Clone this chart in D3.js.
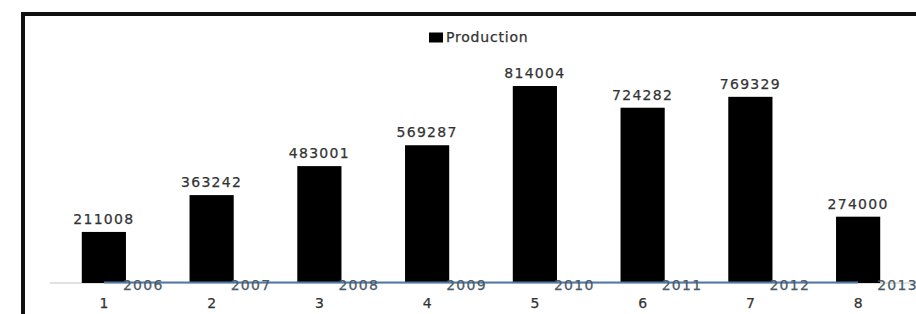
<!DOCTYPE html>
<html>
<head>
<meta charset="utf-8">
<script src="https://cdn.jsdelivr.net/npm/d3@7"></script>
<style>
  body { margin: 0; background: #fff; }
  text { font-family: 'DejaVu Sans', sans-serif; }
</style>
</head>
<body>
<svg id="canvas"></svg>
<script>
let categories = ['1', '2', '3', '4', '5', '6', '7', '8']
let production = [211008, 363242, 483001, 569287, 814004, 724282, 769329, 274000]
let years = [2006, 2007, 2008, 2009, 2010, 2011, 2012, 2013]

let width = 916
let height = 314

let canvas = d3.select('#canvas')
canvas.attr('width', width).attr('height', height)

// outer chart frame (runs off the right / bottom edge)
canvas.append('rect')
    .attr('x', 23).attr('y', 14)
    .attr('width', 960).attr('height', 360)
    .attr('fill', 'none')
    .attr('stroke', '#111')
    .attr('stroke-width', 4)

let xScale = d3.scaleBand()
    .domain(categories)
    .range([50, 912])
    .paddingInner(0.59)
    .paddingOuter(0.295)

let yScale = d3.scaleLinear()
    .domain([0, 900000])
    .range([283, 65.2])

// category axis line
canvas.append('line')
    .attr('x1', 50).attr('x2', width)
    .attr('y1', yScale(0)).attr('y2', yScale(0))
    .attr('stroke', '#c4c4c4')
    .attr('stroke-width', 1)

canvas.selectAll('rect.bar')
    .data(production)
    .enter()
    .append('rect')
    .attr('class', 'bar')
    .attr('x', (d, i) => xScale(categories[i]))
    .attr('y', (d) => yScale(d))
    .attr('width', xScale.bandwidth())
    .attr('height', (d) => yScale(0) - yScale(d))
    .attr('fill', '#000')

canvas.selectAll('text.val')
    .data(production)
    .enter()
    .append('text')
    .attr('class', 'val')
    .attr('x', (d, i) => xScale(categories[i]) + xScale.bandwidth() / 2)
    .attr('y', (d) => yScale(d) - 8)
    .attr('text-anchor', 'middle')
    .attr('font-size', 14)
    .attr('letter-spacing', 1.3)
    .attr('fill', '#333')
    .attr('stroke', '#333')
    .attr('stroke-width', 0.25)
    .text((d) => d)

// year series, plotted on the same scale (sits on the baseline)
let line = d3.line()
    .x((d, i) => xScale(categories[i]) + xScale.bandwidth() / 2)
    .y((d) => yScale(d))

canvas.append('path')
    .datum(years)
    .attr('d', line)
    .attr('fill', 'none')
    .attr('stroke', '#4d7aa6')
    .attr('stroke-width', 2)

canvas.selectAll('text.year')
    .data(years)
    .enter()
    .append('text')
    .attr('class', 'year')
    .attr('x', (d, i) => xScale(categories[i]) + xScale.bandwidth() / 2 + 19)
    .attr('y', (d) => yScale(d) + 7)
    .attr('font-size', 14)
    .attr('letter-spacing', 1.3)
    .attr('fill', '#4a5968')
    .attr('stroke', '#4a5968')
    .attr('stroke-width', 0.25)
    .text((d) => d)

let xAxis = d3.axisBottom(xScale).tickSize(0).tickPadding(15)
let gx = canvas.append('g')
    .attr('transform', `translate(0, ${yScale(0)})`)
    .call(xAxis)
gx.select('.domain').remove()
gx.selectAll('text')
    .attr('font-size', 14)
    .attr('font-family', "'DejaVu Sans', sans-serif")
    .attr('fill', '#333')
    .attr('stroke', '#333')
    .attr('stroke-width', 0.25)

// legend
let legend = canvas.append('g')
legend.append('rect')
    .attr('x', 429).attr('y', 32.5)
    .attr('width', 14).attr('height', 10)
    .attr('fill', '#000')
legend.append('text')
    .attr('x', 446).attr('y', 42)
    .attr('font-size', 14)
    .attr('letter-spacing', 0.8)
    .attr('fill', '#333')
    .attr('stroke', '#333')
    .attr('stroke-width', 0.25)
    .text('Production')
</script>
</body>
</html>
